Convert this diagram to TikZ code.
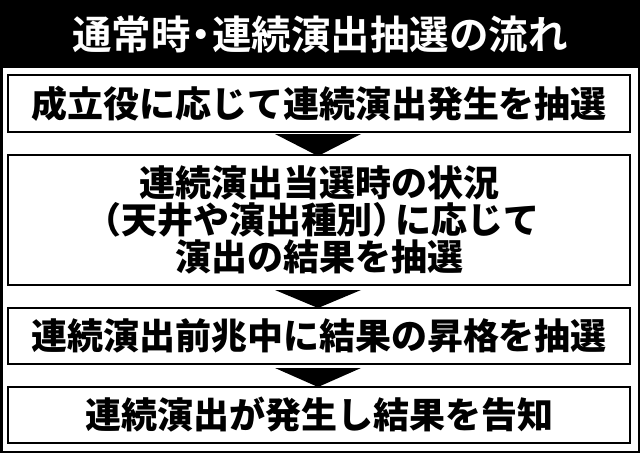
\documentclass[tikz,border=0pt]{standalone}
\usepackage{fontspec}
\newfontfamily\cjk{Noto Sans CJK JP}[BoldFont={Noto Sans CJK JP Bold}]
\newfontfamily\cjkblack{Noto Sans CJK JP Black}
\begin{document}
\begin{tikzpicture}[x=1pt,y=-1pt,
  stepbox/.style={draw=black,line width=2pt,fill=white},
  boxtext/.style={font=\cjkblack\fontsize{36}{37}\selectfont,align=center,inner sep=0pt},
  tri/.style={fill=black,draw=none}]
\useasboundingbox (0,0) rectangle (640,453);
\fill[white] (0,0) rectangle (640,453);
\fill[black] (0,0) rectangle (640,68);
\draw[line width=2.5pt] (1.25,0) rectangle (638.75,451.75);
\node[font=\cjk\bfseries\fontsize{39.5}{40}\selectfont,text=white,inner sep=0pt] (title) at (320,35) {通常時\kern-9pt・\kern-9pt 連続演出抽選の流れ};
\draw[stepbox] (8,75) rectangle (630,132);
\node[boxtext] (b1) at (319,104) {成立役に応じて連続演出発生を抽選};
\draw[stepbox] (8,155) rectangle (630,285);
\node[boxtext] (b2) at (319,220) {連続演出当選時の状況\\\hspace*{-14pt}（天井や演出種別）\hspace*{-14pt}に応じて\\演出の結果を抽選};
\draw[stepbox] (8,308) rectangle (630,364);
\node[boxtext] (b3) at (319,336) {連続演出前兆中に結果の昇格を抽選};
\draw[stepbox] (8,387) rectangle (630,443);
\node[boxtext] (b4) at (319,415) {連続演出が発生し結果を告知};
\fill[tri] (275,134) -- (361,134) -- (318,156) -- cycle;
\fill[tri] (275,290) -- (361,290) -- (318,308) -- cycle;
\fill[tri] (275,368) -- (361,368) -- (318,387) -- cycle;
\end{tikzpicture}
\end{document}
